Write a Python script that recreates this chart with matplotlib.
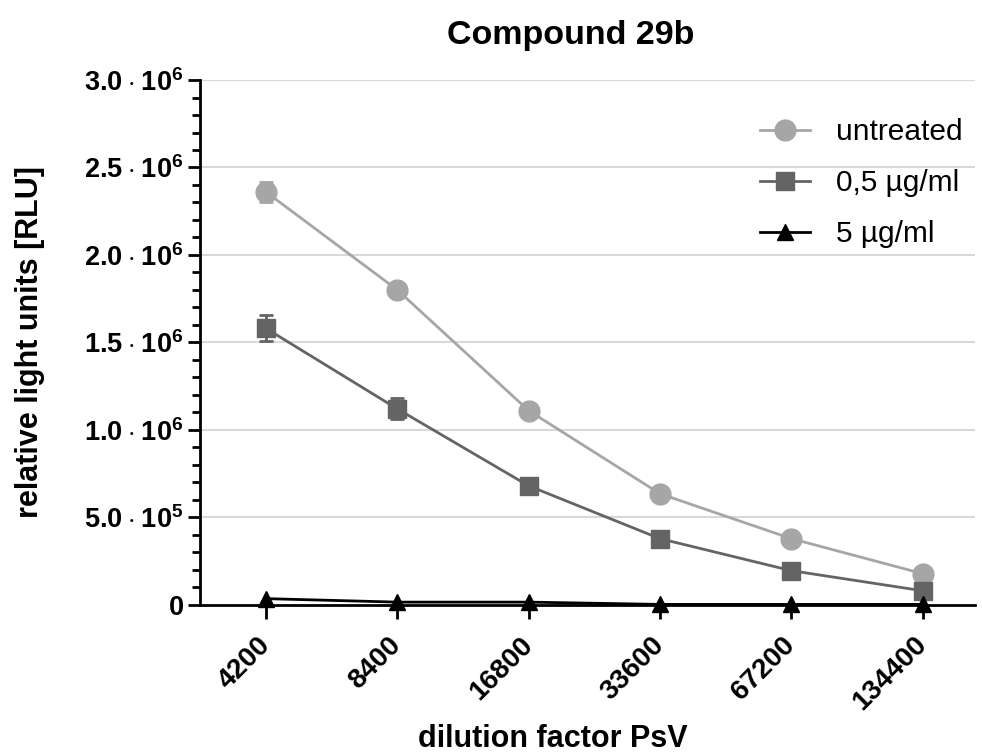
import matplotlib
matplotlib.use("Agg")
import matplotlib.pyplot as plt
import numpy as np
from matplotlib.ticker import MultipleLocator, FixedLocator

plt.rcParams['font.family'] = ['Liberation Sans', 'DejaVu Sans']
plt.rcParams['mathtext.fontset'] = 'custom'
plt.rcParams['mathtext.rm'] = 'Liberation Sans'
plt.rcParams['mathtext.bf'] = 'Liberation Sans:bold'

dilutions = ["4200", "8400", "16800", "33600", "67200", "134400"]
untreated = [2.36e6, 1.80e6, 1.11e6, 0.635e6, 0.378e6, 0.178e6]
untreated_err = [0.057e6, 0.02e6, 0.02e6, 0.01e6, 0.01e6, 0.005e6]
low_dose = [1.58e6, 1.12e6, 0.68e6, 0.378e6, 0.195e6, 0.08e6]
low_dose_err = [0.074e6, 0.06e6, 0.02e6, 0.01e6, 0.01e6, 0.005e6]
high_dose = [0.035e6, 0.015e6, 0.015e6, 0.002e6, 0.002e6, 0.002e6]

ytick_vals = [0, 5e5, 1.0e6, 1.5e6, 2.0e6, 2.5e6, 3.0e6]
ytick_labels = [r"$\mathbf{0}$",
                r"$\mathbf{5.0\:{\cdot}\:10^{5}}$", r"$\mathbf{1.0\:{\cdot}\:10^{6}}$",
                r"$\mathbf{1.5\:{\cdot}\:10^{6}}$", r"$\mathbf{2.0\:{\cdot}\:10^{6}}$",
                r"$\mathbf{2.5\:{\cdot}\:10^{6}}$", r"$\mathbf{3.0\:{\cdot}\:10^{6}}$"]

c_untr = "#a6a6a6"
c_low = "#646464"
c_high = "#000000"

fig = plt.figure(figsize=(9.82, 7.55), dpi=100)
ax = fig.add_axes([0.204, 0.199, 0.789, 0.695])

x = np.arange(len(dilutions))

ax.errorbar(x, untreated, yerr=untreated_err, fmt="none", ecolor=c_untr,
            capsize=5, capthick=2, elinewidth=2, zorder=3)
ax.errorbar(x, low_dose, yerr=low_dose_err, fmt="none", ecolor=c_low,
            capsize=5, capthick=2, elinewidth=2, zorder=4)
l1, = ax.plot(x, untreated, color=c_untr, lw=2, marker="o", ms=15,
              label="untreated", zorder=3)
l2, = ax.plot(x, low_dose, color=c_low, lw=2, marker="s", ms=13,
              label="0,5 µg/ml", zorder=4)
l3, = ax.plot(x, high_dose, color=c_high, lw=2, marker="^", ms=12,
              label="5 µg/ml", zorder=5, clip_on=False)

ax.set_xlim(-0.5, 5.4)
ax.set_ylim(0, 3.0e6)

ax.yaxis.set_major_locator(FixedLocator(ytick_vals))
ax.set_yticklabels(ytick_labels, fontsize=19.5)
ax.yaxis.set_minor_locator(MultipleLocator(1e5))
ax.set_xticks(x)
ax.set_xticklabels(dilutions, rotation=45, ha="right", va="center",
                   rotation_mode="anchor", fontsize=20, fontweight="bold")

for v in ytick_vals[1:]:
    ax.axhline(v, color="#d9d9d9", lw=1.5, zorder=0)

for s in ["top", "right"]:
    ax.spines[s].set_visible(False)
ax.spines["left"].set_linewidth(2)
ax.spines["bottom"].set_linewidth(2)
ax.tick_params(axis="y", which="major", length=9, width=2, direction="out", pad=3)
ax.tick_params(axis="y", which="minor", length=6, width=2, direction="out")
ax.tick_params(axis="x", which="major", length=10, width=2, direction="out", pad=16)

fig.text(571 / 982, 1 - 44 / 755, "Compound 29b", fontsize=24.5, fontweight="bold",
         ha="center", va="baseline")
ax.set_ylabel("relative light units [RLU]", fontsize=22, fontweight="bold")
ax.yaxis.set_label_coords(-0.2, 0.5)
fig.text(553 / 982, 1 - 747 / 755, "dilution factor PsV", fontsize=22,
         fontweight="bold", ha="center", va="baseline")

ax.legend([l1, l2, l3], ["untreated", "0,5 µg/ml", "5 µg/ml"], loc="upper right",
          bbox_to_anchor=(0.999, 0.95), frameon=False, fontsize=21.5,
          handlelength=1.7, handletextpad=0.85, labelspacing=0.77,
          borderaxespad=0)

fig.savefig("out.png", dpi=100)
